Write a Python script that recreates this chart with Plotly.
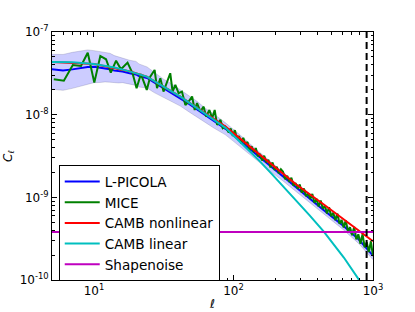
import plotly.graph_objects as go

# ---------------- data ----------------
# L-PICOLA mean and its 1-sigma band
lpicola_ell = [5, 6, 7, 8, 9, 10, 11, 12, 13, 14, 15, 16, 18, 20, 21, 24, 27, 31.5, 36, 41.6,
               48, 54.8, 63, 72.2, 87.6, 110, 151, 190, 225, 279, 350, 444, 618, 792, 1000]
lpicola_cl = [3.54e-8, 3.43e-8, 3.53e-8, 3.67e-8, 3.78e-8, 3.81e-8, 3.72e-8, 3.67e-8, 3.54e-8, 3.41e-8,
              3.38e-8, 3.32e-8, 3.17e-8, 3.07e-8, 2.94e-8, 2.78e-8, 2.45e-8, 2.09e-8, 1.84e-8, 1.59e-8,
              1.35e-8, 1.16e-8, 9.8e-9, 8.4e-9, 6.74e-9, 4.90e-9, 3.13e-9, 2.28e-9, 1.80e-9, 1.32e-9,
              9.7e-10, 6.98e-10, 4.48e-10, 3.08e-10, 1.97e-10]
lpicola_hi = [5.37e-8, 5.35e-8, 5.67e-8, 5.89e-8, 6.07e-8, 5.95e-8, 5.81e-8, 5.73e-8, 5.53e-8, 5.18e-8,
              4.99e-8, 4.90e-8, 4.55e-8, 4.41e-8, 4.11e-8, 3.78e-8, 3.24e-8, 2.69e-8, 2.36e-8, 1.99e-8,
              1.69e-8, 1.45e-8, 1.19e-8, 1.02e-8, 7.97e-9, 5.79e-9, 3.60e-9, 2.62e-9, 2.04e-9, 1.48e-9,
              1.08e-9, 7.80e-10, 5.01e-10, 3.44e-10, 2.20e-10]
lpicola_lo = [2.03e-8, 1.97e-8, 2.08e-8, 2.22e-8, 2.36e-8, 2.44e-8, 2.45e-8, 2.49e-8, 2.47e-8, 2.44e-8,
              2.42e-8, 2.44e-8, 2.33e-8, 2.26e-8, 2.16e-8, 2.10e-8, 1.85e-8, 1.63e-8, 1.43e-8, 1.27e-8,
              1.08e-8, 9.29e-9, 8.07e-9, 6.91e-9, 5.70e-9, 4.15e-9, 2.72e-9, 1.98e-9, 1.59e-9, 1.18e-9,
              8.68e-10, 6.24e-10, 4.01e-10, 2.75e-10, 1.76e-10]

# MICE measurement (values in units of 1e-10)
mice_ell = [5.15, 6.08, 7.05, 8.07, 9.02, 10.05, 11.1, 12.2, 13.2, 14.4, 15.6, 17.4, 18.9, 20.2, 21.7,
            23.9, 25.3, 27.2, 28.3, 29.9, 31.5, 33.3, 35.2, 36.6, 38.3, 40.4, 42.7, 45.2, 47.7, 50.5,
            52.7, 54.8, 57.9, 61.1, 63.6, 67.2, 70.3, 73.3, 76.3, 80.6, 83.7, 87.5, 92.4,
            95.5, 98.9, 102.3, 105.9, 109.6, 113.5, 117.5, 121.6, 125.9, 130.3, 134.9, 139.6, 144.5,
            149.6, 154.9, 160.3, 166.0, 171.8, 177.8, 184.1, 190.5, 197.2, 204.2, 211.3, 218.8, 226.5,
            234.4, 242.7, 251.2, 260.0, 269.2, 278.6, 288.4, 298.5, 309.0, 319.9, 331.1, 342.8, 354.8,
            367.3, 380.2, 393.6, 407.4, 421.7, 436.5, 451.9, 467.7, 484.2, 501.2, 518.8, 537.0, 555.9,
            575.4, 595.7, 616.6, 638.3, 660.7, 683.9, 707.9, 732.8, 758.6, 785.2, 812.8, 841.4, 871.0,
            901.6, 933.3, 966.1, 1000]
mice_cl_e10 = [268, 258, 399, 388, 562, 244, 513, 468, 322, 450, 354, 426, 317, 209, 310,
               199, 288, 347, 209, 276, 190, 251, 317, 190, 229, 182, 190, 131, 144, 166,
               114, 138, 109, 125, 94.8, 114, 90.7, 114, 75.3, 86.5, 68.7, 71.8, 60.8,
               68.2, 55.3, 65.0, 51.5, 55.1, 44.8, 52.5, 43.7, 46.7, 37.0, 41.5, 35.2, 39.4,
               31.3, 33.5, 27.9, 31.9, 26.5, 28.4, 23.0, 26.4, 21.4, 23.4, 19.5, 21.8, 20.4,
               16.6, 18.2, 15.4, 17.3, 13.8, 14.9, 12.7, 14.3, 11.4, 12.8, 10.3, 11.2, 9.57,
               11.0, 8.57, 9.64, 7.76, 9.14, 7.28, 7.91, 6.37, 7.59, 5.90, 6.49, 5.28, 6.35,
               4.78, 5.31, 4.33, 5.27, 3.87, 4.36, 3.47, 4.38, 3.10, 3.57, 2.75, 3.59, 2.49,
               2.86, 2.18, 2.94, 1.95]

# CAMB nonlinear theory
camb_nl_ell = [5, 10, 18.2, 23.9, 31.5, 41.6, 54.8, 72.2, 87.6, 151, 225, 279, 444, 618, 792, 1000]
camb_nl_cl = [4.34e-8, 4.11e-8, 3.32e-8, 2.89e-8, 2.18e-8, 1.65e-8, 1.21e-8, 8.9e-9, 7.19e-9,
              3.38e-9, 1.96e-9, 1.45e-9, 8.18e-10, 5.44e-10, 4.01e-10, 2.95e-10]

# CAMB linear theory
camb_lin_ell = [5, 7, 10, 14, 18.2, 23.9, 31.5, 41.6, 54.8, 72.2, 87.6, 120, 151, 190, 225, 279,
                350, 444, 618, 792, 1000]
camb_lin_cl = [4.34e-8, 4.30e-8, 4.11e-8, 3.73e-8, 3.32e-8, 2.89e-8, 2.18e-8, 1.65e-8, 1.20e-8,
               8.65e-9, 6.93e-9, 4.15e-9, 2.84e-9, 1.88e-9, 1.38e-9, 9.35e-10, 6.08e-10, 3.85e-10,
               1.87e-10, 1.01e-10, 5.3e-11]

# Shape noise level and ell cut
shapenoise_ell = [5, 1000]
shapenoise_cl = [3.8e-10, 3.8e-10]
ell_cut = 900
cut_range = [1e-10, 1e-7]

series_names = ["L-PICOLA", "MICE", "CAMB nonlinear", "CAMB linear", "Shapenoise"]
x_ticks = [10, 100, 1000]
x_ticktext = ["10<sup>1</sup>", "10<sup>2</sup>", "10<sup>3</sup>"]
y_ticks = [1e-10, 1e-9, 1e-8, 1e-7]
y_ticktext = ["10<sup>-10</sup>", "10<sup>-9</sup>", "10<sup>-8</sup>", "10<sup>-7</sup>"]
x_minor = [6, 7, 8, 9, 20, 30, 40, 50, 60, 70, 80, 90, 200, 300, 400, 500, 600, 700, 800, 900]
y_minor = [m * 10.0 ** e for e in (-10, -9, -8) for m in (2, 3, 4, 5, 6, 7, 8, 9)]

# ---------------- figure ----------------
FONT = "DejaVu Sans"
fig = go.Figure()

fig.add_trace(go.Scatter(x=lpicola_ell, y=lpicola_lo, mode="lines",
                         line=dict(color="rgba(70,70,120,0.35)", width=0.6),
                         showlegend=False, hoverinfo="skip"))
fig.add_trace(go.Scatter(x=lpicola_ell, y=lpicola_hi, mode="lines", fill="tonexty",
                         fillcolor="rgba(0,0,255,0.2)",
                         line=dict(color="rgba(70,70,120,0.35)", width=0.6),
                         showlegend=False, hoverinfo="skip"))
fig.add_trace(go.Scatter(x=lpicola_ell, y=lpicola_cl, mode="lines", name=series_names[0],
                         line=dict(color="#0000ff", width=2)))
fig.add_trace(go.Scatter(x=mice_ell, y=[v * 1e-10 for v in mice_cl_e10], mode="lines",
                         name=series_names[1], line=dict(color="#008000", width=2)))
fig.add_trace(go.Scatter(x=camb_nl_ell, y=camb_nl_cl, mode="lines", name=series_names[2],
                         line=dict(color="#ff0000", width=2)))
fig.add_trace(go.Scatter(x=camb_lin_ell, y=camb_lin_cl, mode="lines", name=series_names[3],
                         line=dict(color="#00bfbf", width=2)))
fig.add_trace(go.Scatter(x=shapenoise_ell, y=shapenoise_cl, mode="lines", name=series_names[4],
                         line=dict(color="#bf00bf", width=2)))
fig.add_trace(go.Scatter(x=[ell_cut, ell_cut], y=cut_range, mode="lines", showlegend=False,
                         line=dict(color="black", width=2, dash="7px,4px"), hoverinfo="skip"))

axis_common = dict(
    type="log", showgrid=False, zeroline=False, showline=True, linecolor="black", linewidth=1,
    mirror="allticks", ticks="inside", ticklen=5, tickwidth=1, tickcolor="black",
    tickmode="array", automargin=False,
    tickfont=dict(family=FONT, size=12, color="black"),
)

fig.update_xaxes(**axis_common, range=[0.69897, 3], tickvals=x_ticks, ticktext=x_ticktext,
                 minor=dict(tickmode="array", tickvals=x_minor, ticks="inside", ticklen=2.5,
                            tickcolor="black", showgrid=False),
                 title=dict(text="<i>ℓ</i>", font=dict(family=FONT, size=12, color="black"), standoff=2))
fig.update_yaxes(**axis_common, range=[-10, -7], tickvals=y_ticks, ticktext=y_ticktext,
                 minor=dict(tickmode="array", tickvals=y_minor, ticks="inside", ticklen=2.5,
                            tickcolor="black", showgrid=False),
                 title=dict(text="<i>C</i><sub>ℓ</sub>", font=dict(family=FONT, size=12, color="black"),
                            standoff=4))

fig.update_layout(
    width=415, height=312,
    margin=dict(l=52, r=42, t=32, b=32),
    paper_bgcolor="white", plot_bgcolor="white",
    font=dict(family=FONT, size=12, color="black"),
    showlegend=True,
    legend=dict(x=0.021, y=0.463, xanchor="left", yanchor="top", traceorder="normal",
                bgcolor="white", bordercolor="black", borderwidth=1,
                font=dict(family=FONT, size=13.6, color="black"),
                itemwidth=35, tracegroupgap=0),
    hovermode=False,
)

fig.write_html("out.html", config={"displayModeBar": False},
               post_script="document.body.style.margin='0';document.body.style.padding='0';")
